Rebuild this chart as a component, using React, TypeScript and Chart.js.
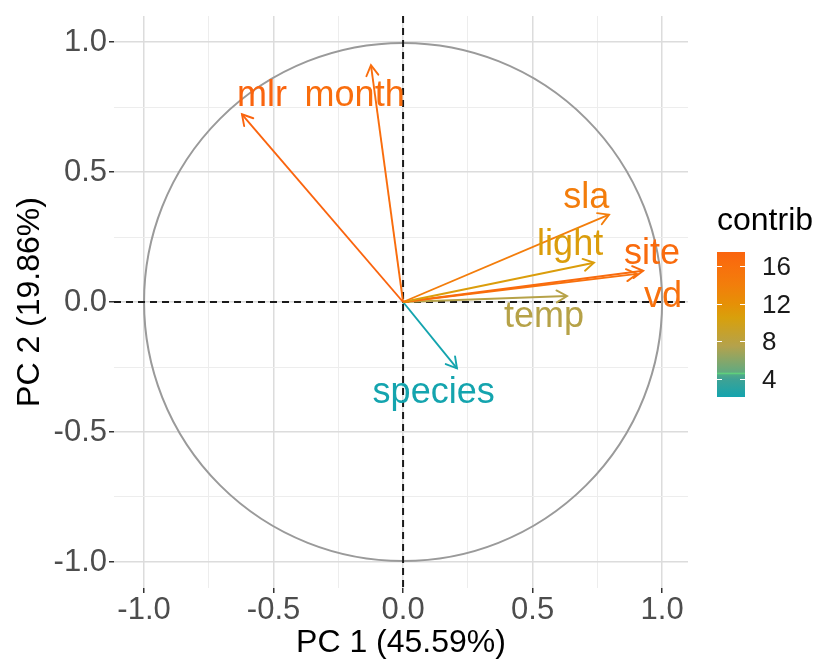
import React, { useEffect, useRef } from 'react';
import { Chart, registerables } from 'chart.js';

Chart.register(...registerables);

// ---- data ----
const variables = ['mlr', 'month', 'sla', 'light', 'site', 'vd', 'temp', 'species'];
const pc1 = [-0.622, -0.124, 0.795, 0.737, 0.927, 0.903, 0.633, 0.208];
const pc2 = [0.722, 0.911, 0.336, 0.151, 0.12, 0.108, 0.023, -0.255];
const contrib = [17.5, 16.4, 14.2, 10.8, 16.6, 15.9, 7.7, 2.0];
// repelled label anchors (data coords: text centre x, baseline y)
const labelPc1 = [-0.545, -0.187, 0.707, 0.645, 0.961, 1.004, 0.544, 0.118];
const labelPc2 = [0.753, 0.753, 0.363, 0.181, 0.147, -0.019, -0.097, -0.39];
const legendTicks = [4, 8, 12, 16];
const contribRange = [2.1, 17.5];
const colorStops: [number, string][] = [
  [2.1, '#14A4AE'],
  [4.0, '#3FA294'],
  [4.45, '#4FAA88'],
  [4.6, '#5FD07C'],
  [4.75, '#62AA80'],
  [7.5, '#B4A24C'],
  [10.5, '#D8A00C'],
  [12.0, '#E69006'],
  [14.0, '#F27E0B'],
  [16.0, '#F8700D'],
  [17.5, '#FA640E'],
];

const FONT = "'Liberation Sans', Arial, Helvetica, sans-serif";

function hexToRgb(h: string) {
  const n = parseInt(h.slice(1), 16);
  return [(n >> 16) & 255, (n >> 8) & 255, n & 255];
}
function colorFor(v: number) {
  if (v <= colorStops[0][0]) return colorStops[0][1];
  for (let i = 1; i < colorStops.length; i++) {
    const [v1, c1] = colorStops[i];
    const [v0, c0] = colorStops[i - 1];
    if (v <= v1) {
      const t = (v - v0) / (v1 - v0);
      const a = hexToRgb(c0);
      const b = hexToRgb(c1);
      const r = a.map((x, k) => Math.round(x + (b[k] - x) * t));
      return `rgb(${r[0]},${r[1]},${r[2]})`;
    }
  }
  return colorStops[colorStops.length - 1][1];
}

const isMajor = (v: number) => Math.abs(v * 2 - Math.round(v * 2)) < 1e-6;

const decorPlugin = {
  id: 'biplotDecor',
  beforeDatasetsDraw(chart: any) {
    const { ctx, chartArea, scales } = chart;
    const xs = scales.x;
    const ys = scales.y;
    ctx.save();
    ctx.beginPath();
    ctx.rect(chartArea.left, chartArea.top, chartArea.right - chartArea.left, chartArea.bottom - chartArea.top);
    ctx.clip();
    // unit circle
    const cx = xs.getPixelForValue(0);
    const cy = ys.getPixelForValue(0);
    const r = xs.getPixelForValue(1) - cx;
    ctx.beginPath();
    ctx.arc(cx, cy, r, 0, Math.PI * 2);
    ctx.strokeStyle = '#9A9A9A';
    ctx.lineWidth = 2;
    ctx.stroke();
    // dashed zero lines
    ctx.setLineDash([7, 5]);
    ctx.strokeStyle = '#1A1A1A';
    ctx.lineWidth = 2;
    ctx.beginPath();
    ctx.moveTo(chartArea.left, cy);
    ctx.lineTo(chartArea.right, cy);
    ctx.moveTo(cx, chartArea.top);
    ctx.lineTo(cx, chartArea.bottom);
    ctx.stroke();
    ctx.restore();
  },
  afterDatasetsDraw(chart: any) {
    const { ctx, scales } = chart;
    const xs = scales.x;
    const ys = scales.y;
    ctx.save();
    const ox = xs.getPixelForValue(0);
    const oy = ys.getPixelForValue(0);
    // arrow heads
    variables.forEach((_, i) => {
      const tx = xs.getPixelForValue(pc1[i]);
      const ty = ys.getPixelForValue(pc2[i]);
      const ang = Math.atan2(ty - oy, tx - ox);
      const L = 12;
      const w = Math.PI / 6;
      ctx.strokeStyle = colorFor(contrib[i]);
      ctx.lineWidth = 1.9;
      ctx.lineCap = 'round';
      ctx.beginPath();
      ctx.moveTo(tx - L * Math.cos(ang - w), ty - L * Math.sin(ang - w));
      ctx.lineTo(tx, ty);
      ctx.lineTo(tx - L * Math.cos(ang + w), ty - L * Math.sin(ang + w));
      ctx.stroke();
    });
    // labels
    ctx.font = `36px ${FONT}`;
    ctx.textAlign = 'center';
    ctx.textBaseline = 'alphabetic';
    variables.forEach((name, i) => {
      ctx.fillStyle = colorFor(contrib[i]);
      ctx.fillText(name, xs.getPixelForValue(labelPc1[i]), ys.getPixelForValue(labelPc2[i]));
    });
    ctx.restore();
  },
  afterDraw(chart: any) {
    const { ctx } = chart;
    const bx = 717;
    const bw = 28;
    const top = 252;
    const bottom = 397;
    const [vmin, vmax] = contribRange;
    const yOf = (v: number) => bottom - ((v - vmin) / (vmax - vmin)) * (bottom - top);
    ctx.save();
    ctx.fillStyle = '#000';
    ctx.font = `32px ${FONT}`;
    ctx.textAlign = 'left';
    ctx.textBaseline = 'alphabetic';
    ctx.fillText('contrib', 717, 230);
    const g = ctx.createLinearGradient(0, bottom, 0, top);
    colorStops.forEach(([v, c]) => g.addColorStop((v - vmin) / (vmax - vmin), c));
    ctx.fillStyle = g;
    ctx.fillRect(bx, top, bw, bottom - top);
    ctx.strokeStyle = '#FFFFFF';
    ctx.lineWidth = 1;
    ctx.font = `26px ${FONT}`;
    ctx.fillStyle = '#1A1A1A';
    ctx.textBaseline = 'middle';
    legendTicks.forEach((t) => {
      const y = Math.round(yOf(t)) + 0.5;
      ctx.beginPath();
      ctx.moveTo(bx, y);
      ctx.lineTo(bx + 5, y);
      ctx.moveTo(bx + bw - 5, y);
      ctx.lineTo(bx + bw, y);
      ctx.stroke();
      ctx.fillText(String(t), 762, y + 1);
    });
    ctx.restore();
  },
};

function axisCommon(titleText: string, titlePadding: any, tickPadding: number) {
  return {
    type: 'linear' as const,
    ticks: {
      stepSize: 0.25,
      includeBounds: false,
      autoSkip: false,
      maxRotation: 0,
      font: { family: FONT, size: 31 },
      color: '#4D4D4D',
      padding: tickPadding,
      callback: (v: any) => (isMajor(Number(v)) ? Number(v).toFixed(1) : ''),
    },
    grid: {
      color: (c: any) => (c.tick && isMajor(c.tick.value) ? '#DCDCDC' : '#EDEDED'),
      lineWidth: (c: any) => (c.tick && isMajor(c.tick.value) ? 1.5 : 1),
      tickColor: (c: any) => (c.tick && isMajor(c.tick.value) ? '#333333' : 'rgba(0,0,0,0)'),
      tickLength: 5,
      drawTicks: true,
    },
    border: { display: false },
    title: {
      display: true,
      text: titleText,
      font: { family: FONT, size: 32 },
      color: '#000000',
      padding: titlePadding,
    },
  };
}

export default function App() {
  const ref = useRef<HTMLCanvasElement | null>(null);
  useEffect(() => {
    document.body.style.margin = '0';
    const canvas = ref.current;
    if (!canvas) return;
    const chart = new Chart(canvas, {
      type: 'scatter',
      data: {
        datasets: variables.map((name, i) => ({
          label: name,
          data: [
            { x: 0, y: 0 },
            { x: pc1[i], y: pc2[i] },
          ],
          showLine: true,
          borderColor: colorFor(contrib[i]),
          backgroundColor: colorFor(contrib[i]),
          borderWidth: 1.9,
          pointRadius: 0,
        })),
      },
      options: {
        responsive: false,
        maintainAspectRatio: false,
        animation: false,
        layout: { padding: { left: 0, right: 130, top: 16, bottom: 0 } },
        plugins: {
          legend: { display: false },
          tooltip: { enabled: false },
        },
        scales: {
          x: {
            ...axisCommon('PC 1 (45.59%)', { top: 0, bottom: -3 }, -1),
            min: -1.116,
            max: 1.1,
            afterFit: (s: any) => {
              s.height = 71;
              s.paddingLeft = 0;
              s.paddingRight = 0;
            },
          },
          y: {
            ...axisCommon('PC 2 (19.86%)', { top: 11, bottom: 0 }, 2),
            min: -1.1,
            max: 1.1,
            afterFit: (s: any) => {
              s.width = 114;
              s.paddingTop = 0;
              s.paddingBottom = 0;
            },
          },
        } as any,
      },
      plugins: [decorPlugin],
    });
    return () => chart.destroy();
  }, []);
  return <canvas ref={ref} width={818} height={659} style={{ display: 'block', width: 818, height: 659 }} />;
}
